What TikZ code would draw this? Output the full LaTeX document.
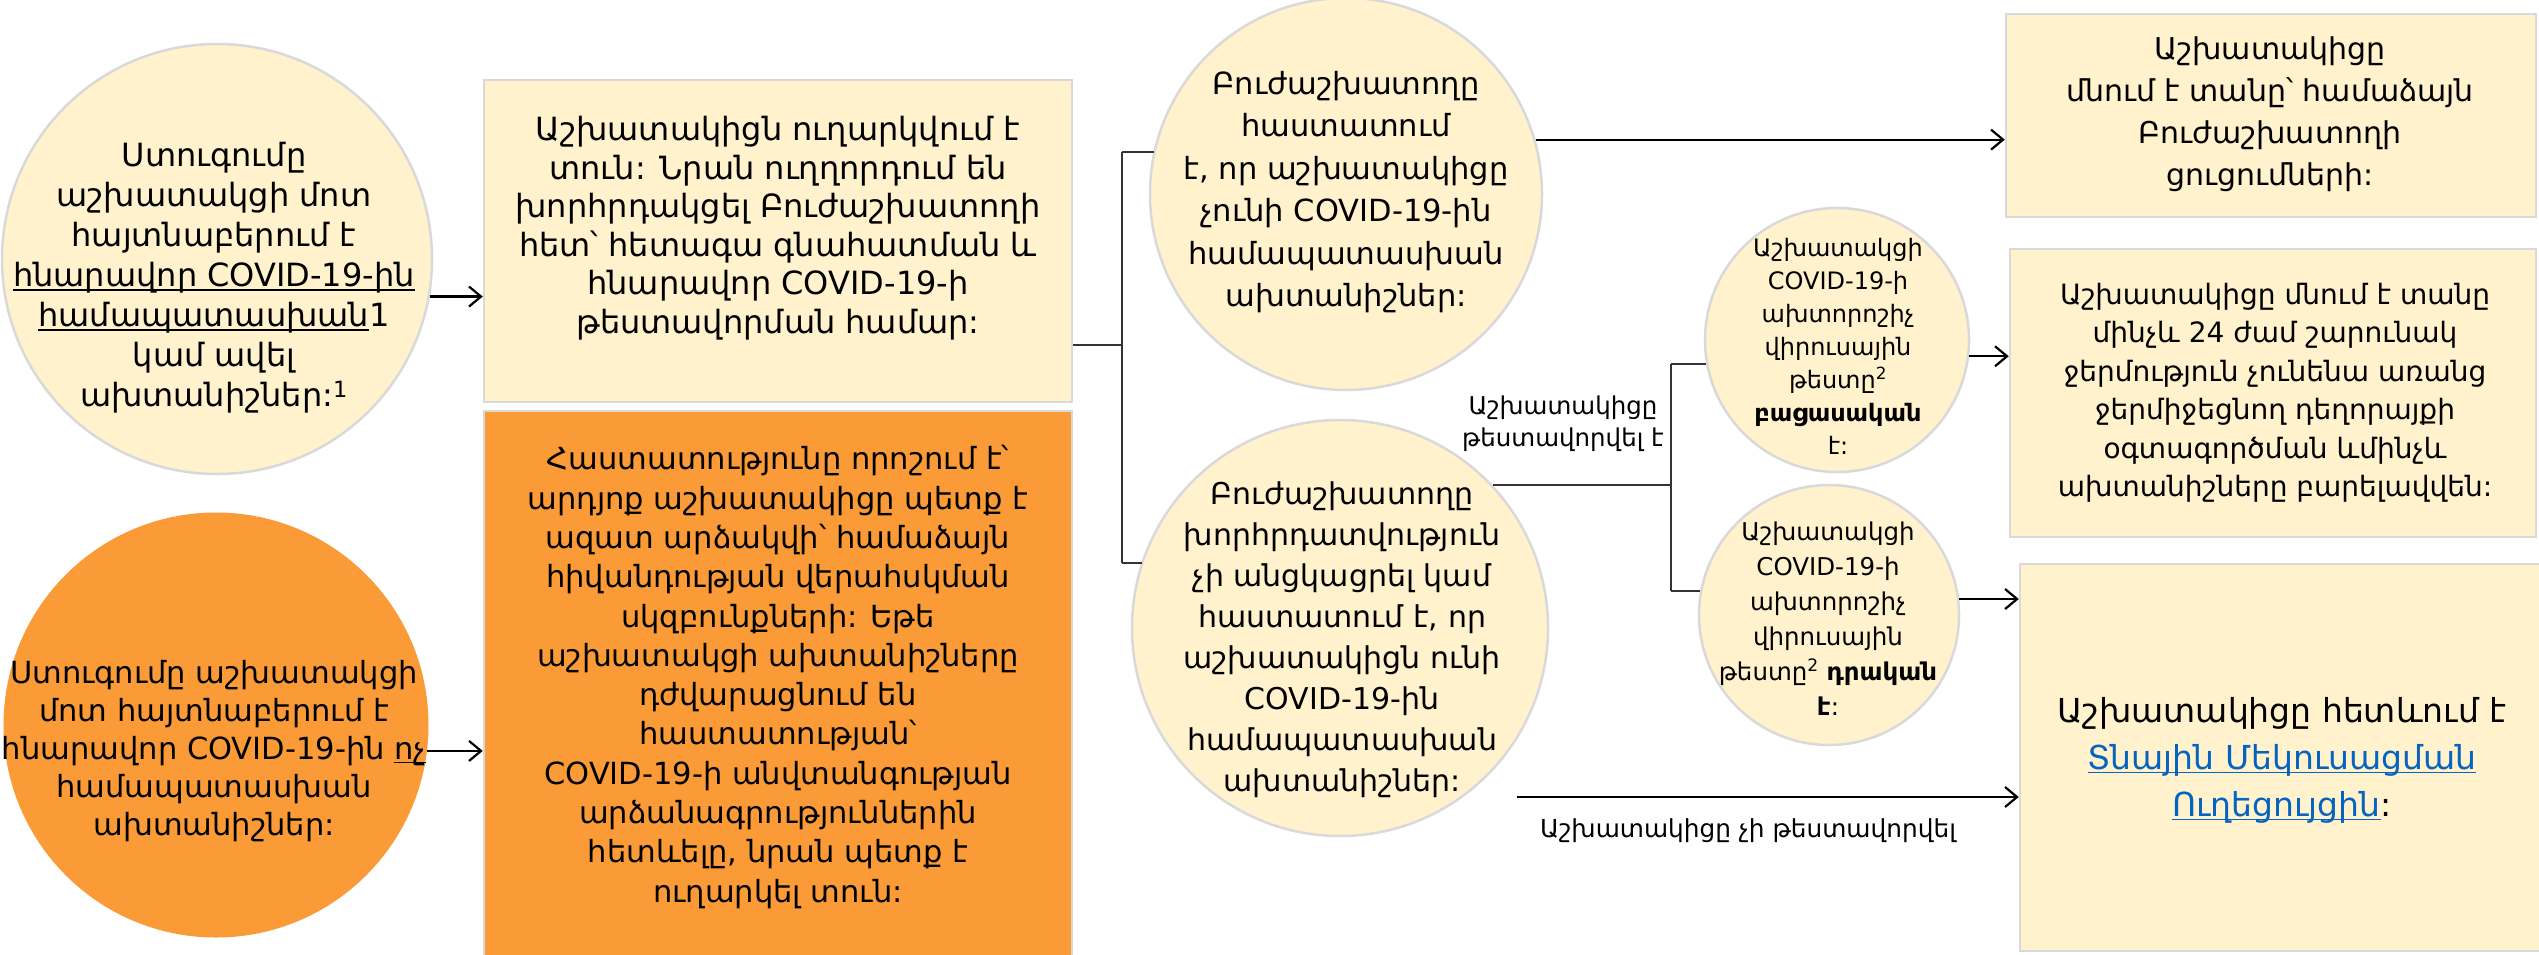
\documentclass[tikz,border=0pt]{standalone}
\usepackage{fontspec}
\setmainfont{DejaVu Sans}
\usetikzlibrary{arrows.meta}
\definecolor{pale}{HTML}{FFF2CC}
\definecolor{edgegray}{HTML}{D9D9D9}
\definecolor{orng}{HTML}{FA9B37}
\definecolor{linkblue}{HTML}{0563C1}
\newsavebox{\ulbx}
\newcommand\ulx[1]{\sbox{\ulbx}{#1}\rlap{\rule[-0.13em]{\wd\ulbx}{0.055em}}\usebox{\ulbx}}
\begin{document}
\begin{tikzpicture}[x=1pt,y=-1pt,
  circ/.style={circle, draw=edgegray, line width=2.5pt, fill=pale, inner sep=0pt},
  ocirc/.style={circle, draw=none, fill=orng, inner sep=0pt},
  boxs/.style={rectangle, draw=edgegray, line width=2.5pt, fill=pale, inner sep=0pt},
  oboxs/.style={rectangle, draw=edgegray, line width=2.5pt, fill=orng, inner sep=0pt},
  txt/.style={align=center, inner sep=0pt},
  arr/.style={line width=2.2pt, -{Straight Barb[length=12pt,width=20pt]}},
  brk/.style={line width=2pt, draw=black!80}]
\useasboundingbox (0,0) rectangle (2539,954);
% shapes
\node[circ, minimum size=430pt] (c1) at (217,259) {};
\node[ocirc, minimum size=425pt] (c2) at (216,725) {};
\node[boxs, minimum width=588pt, minimum height=322pt] (b1) at (778,241) {};
\node[oboxs, minimum width=588pt, minimum height=548pt] (b2) at (778,685) {};
\node[circ, minimum size=392pt] (c3) at (1346,194) {};
\node[circ, minimum size=416pt] (c4) at (1340,628) {};
\node[circ, minimum size=264pt] (c5) at (1837,340) {};
\node[circ, minimum size=260pt] (c6) at (1829,615) {};
\node[boxs, minimum width=530pt, minimum height=203pt] (tr) at (2271,115.5) {};
\node[boxs, minimum width=526pt, minimum height=288pt] (mr) at (2273,393) {};
\node[boxs, minimum width=528pt, minimum height=387pt] (br) at (2284,757.5) {};
% texts
\node[txt, font=\fontsize{32}{40}\selectfont] (c1t) at (214,278) {Ստուգումը\\աշխատակցի մոտ\\հայտնաբերում է\\\ulx{հնարավոր COVID-19-ին}\\\ulx{համապատասխան}1\\կամ ավել\\ախտանիշներ:\textsuperscript{1}};
\node[txt, font=\fontsize{30.5}{38}\selectfont] (c2t) at (214,751) {Ստուգումը աշխատակցի\\մոտ հայտնաբերում է\\հնարավոր COVID-19-ին \ulx{ոչ}\\համապատասխան\\ախտանիշներ:};
\node[txt, font=\fontsize{32}{38.5}\selectfont] (b1t) at (778,228) {Աշխատակիցն ուղարկվում է\\տուն: Նրան ուղղորդում են\\խորհրդակցել Բուժաշխատողի\\հետ՝ հետագա գնահատման և\\հնարավոր COVID-19-ի\\թեստավորման համար:};
\node[txt, font=\fontsize{30.5}{39.3}\selectfont] (b2t) at (778,677) {Հաստատությունը որոշում է՝\\արդյոք աշխատակիցը պետք է\\ազատ արձակվի՝ համաձայն\\հիվանդության վերահսկման\\սկզբունքների: Եթե\\աշխատակցի ախտանիշները\\դժվարացնում են\\հաստատության՝\\COVID-19-ի անվտանգության\\արձանագրություններին\\հետևելը, նրան պետք է\\ուղարկել տուն:};
\node[txt, font=\fontsize{30.5}{42.5}\selectfont] (c3t) at (1346,192) {Բուժաշխատողը\\հաստատում\\է, որ աշխատակիցը\\չունի COVID-19-ին\\համապատասխան\\ախտանիշներ:};
\node[txt, font=\fontsize{30}{41}\selectfont] (c4t) at (1342,640) {Բուժաշխատողը\\խորհրդատվություն\\չի անցկացրել կամ\\հաստատում է, որ\\աշխատակիցն ունի\\COVID-19-ին\\համապատասխան\\ախտանիշներ:};
\node[txt, font=\fontsize{24}{33}\selectfont] (c5t) at (1838,346) {Աշխատակցի\\COVID-19-ի\\ախտորոշիչ\\վիրուսային\\թեստը\textsuperscript{2}\\\textbf{բացասական}\\է:};
\node[txt, font=\fontsize{24.5}{35}\selectfont] (c6t) at (1828,619) {Աշխատակցի\\COVID-19-ի\\ախտորոշիչ\\վիրուսային\\թեստը\textsuperscript{2} \textbf{դրական}\\\textbf{է}:};
\node[txt, font=\fontsize{30}{42}\selectfont] (trt) at (2270,114) {Աշխատակիցը\\մնում է տանը՝ համաձայն\\Բուժաշխատողի\\ցուցումների:};
\node[txt, font=\fontsize{28}{38.5}\selectfont] (mrt) at (2275,393) {Աշխատակիցը մնում է տանը\\մինչև 24 ժամ շարունակ\\ջերմություն չունենա առանց\\ջերմիջեցնող դեղորայքի\\օգտագործման ևմինչև\\ախտանիշները բարելավվեն:};
\node[txt, font=\fontsize{33}{47}\selectfont] (brt) at (2282,760) {Աշխատակիցը հետևում է\\\textcolor{linkblue}{\ulx{Տնային Մեկուսացման}}\\\textcolor{linkblue}{\ulx{Ուղեցույցին}}:};
\node[txt, font=\fontsize{24.5}{32}\selectfont] (lab1) at (1563,424) {Աշխատակիցը\\թեստավորվել է};
\node[txt, font=\fontsize{24.8}{32}\selectfont] (lab2) at (1748,831) {Աշխատակիցը չի թեստավորվել};
% bracket 1
\coordinate (j1) at (1122,345);
\coordinate (j1t) at (1122,152);
\coordinate (j1b) at (1122,563);
\draw[brk] (b1.east |- j1) -- (j1);
\draw[brk] (j1t) -- (j1b);
\draw[brk] (j1t) -- (j1t -| c3.167.6);
\draw[brk] (j1b) -- (j1b -| c4.161.8);
% bracket 2
\coordinate (j2) at (1671,486);
\coordinate (j2t) at (1671,364);
\coordinate (j2b) at (1671,591);
\draw[brk] (c4.43) -- (c4.43 -| j2);
\draw[brk] (j2t) -- (j2b);
\draw[brk] (j2t) -- (j2t -| c5.190.5);
\draw[brk] (j2b) -- (j2b -| c6.169.4);
% arrows
\draw[arr] (c1.-10.5) -- (c1.-10.5 -| b1.west);
\draw[arr] (c2.-7.3) -- (c2.-7.3 -| b2.west);
\draw[arr] (c3.16.6) -- (c3.16.6 -| tr.west);
\draw[arr] (c5.-7.4) -- (c5.-7.4 -| mr.west);
\draw[arr] (c6.7.5) -- (c6.7.5 -| br.west);
\coordinate (s4) at (1517,797);
\draw[arr] (s4) -- (s4 -| br.west);
\end{tikzpicture}
\end{document}
